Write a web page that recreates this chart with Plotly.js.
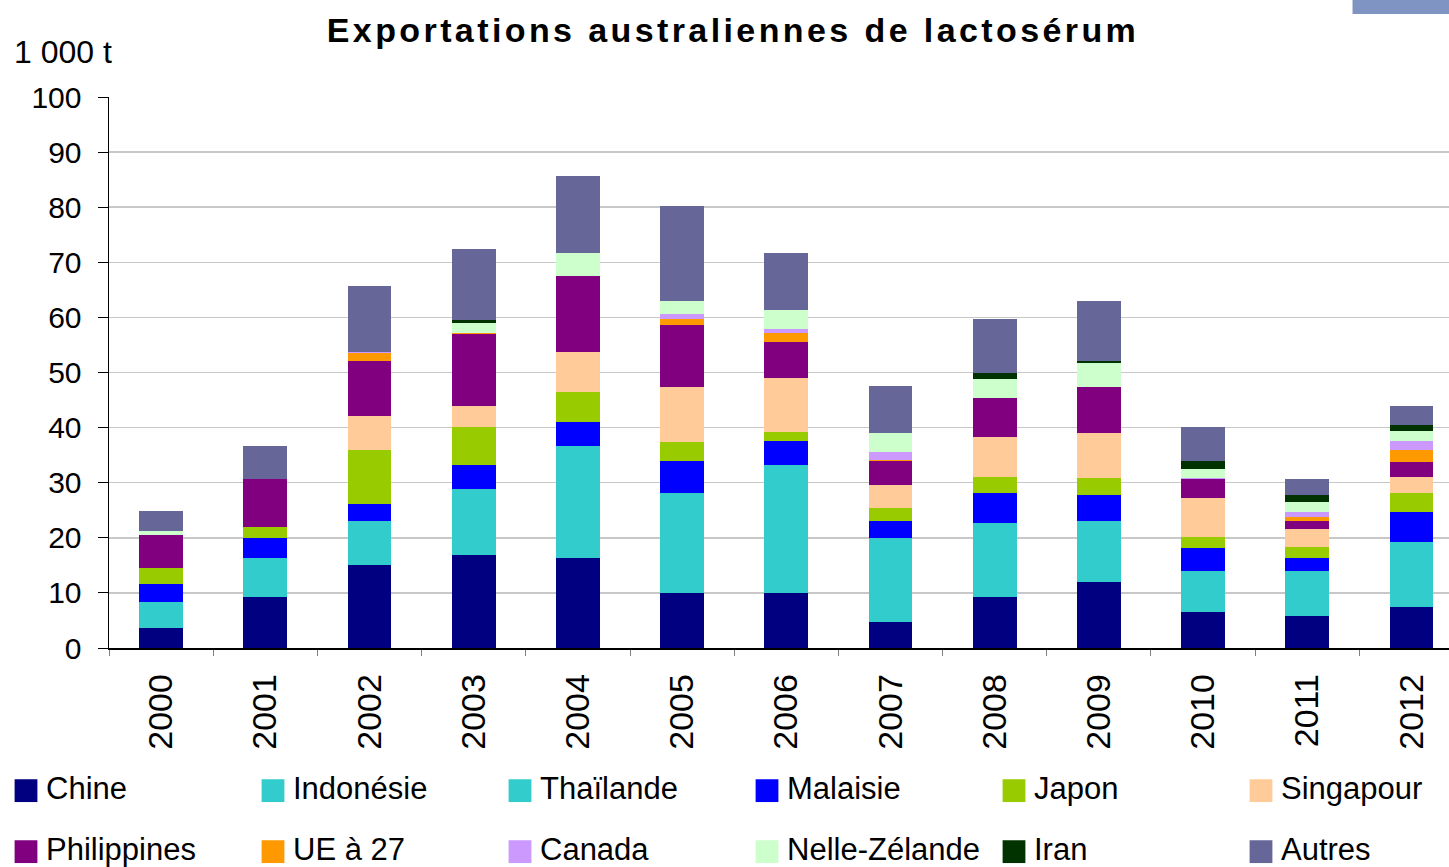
<!DOCTYPE html>
<html>
<head>
<meta charset="utf-8">
<script src="https://cdn.plot.ly/plotly-3.0.1.min.js"></script>
<style>
  html, body { margin: 0; padding: 0; background: #fff; }
  #chart { width: 1449px; height: 867px; }
</style>
</head>
<body>
<div id="chart"></div>
<script>
const years = ["2000", "2001", "2002", "2003", "2004", "2005", "2006", "2007", "2008", "2009", "2010", "2011", "2012"];

// 1 000 t
const chine       = [3.6, 9.2, 15.1, 16.8, 16.4, 10.0, 10.0, 4.8, 9.2, 12.0, 6.55, 5.85, 7.4];
const indonesie   = [4.8, 7.2, 8.0, 12.0, 20.3, 18.1, 23.3, 15.2, 13.5, 11.05, 7.35, 8.05, 11.85];
const thailande   = [0, 0, 0, 0, 0, 0, 0, 0, 0, 0, 0, 0, 0];
const malaisie    = [3.3, 3.6, 3.05, 4.5, 4.3, 5.9, 4.3, 3.05, 5.35, 4.65, 4.2, 2.5, 5.4];
const japon       = [2.85, 2.0, 9.85, 6.8, 5.4, 3.4, 1.55, 2.35, 2.9, 3.1, 2.1, 1.9, 3.4];
const singapour   = [0, 0, 6.15, 3.75, 7.3, 10.0, 9.8, 4.1, 7.35, 8.2, 7.0, 3.35, 2.9];
const philippines = [5.9, 8.6, 9.9, 13.2, 13.9, 11.2, 6.6, 4.5, 7.0, 8.4, 3.4, 1.45, 2.85];
const ue27        = [0, 0, 1.4, 0.2, 0, 1.1, 1.6, 0.2, 0, 0, 0, 0.7, 2.2];
const canada      = [0, 0, 0.3, 0, 0, 0.9, 0.8, 1.4, 0, 0, 0.2, 0.85, 1.55];
const nzelande    = [0.7, 0, 0, 1.75, 4.0, 2.3, 3.4, 3.4, 3.6, 4.25, 1.75, 1.8, 1.8];
const iran        = [0, 0, 0, 0.55, 0, 0, 0, 0, 1.1, 0.35, 1.45, 1.25, 1.1];
const autres      = [3.75, 6.1, 12.0, 12.85, 14.1, 17.4, 10.3, 8.55, 9.7, 11.0, 6.05, 2.9, 3.55];

const seriesNames  = ["Chine", "Indonésie", "Thaïlande", "Malaisie", "Japon", "Singapour",
                      "Philippines", "UE à 27", "Canada", "Nelle-Zélande", "Iran", "Autres"];
const seriesValues = [chine, indonesie, thailande, malaisie, japon, singapour,
                      philippines, ue27, canada, nzelande, iran, autres];
const seriesColors = ["#000080", "#33CCCC", "#33CCCC", "#0000FF", "#99CC00", "#FFCC99",
                      "#800080", "#FF9900", "#CC99FF", "#CCFFCC", "#003300", "#666699"];

const FONT = "Liberation Sans, Arial, sans-serif";

// 2 rows x 6 columns of legend, done as 4 legends of 3 entries
const legendIds = ["legend", "legend3", "legend2", "legend4"];

const traces = seriesValues.map((y, i) => ({
  type: "bar",
  x: years,
  y: y,
  name: seriesNames[i],
  marker: { color: seriesColors[i], line: { width: 0 } },
  legend: legendIds[Math.floor(i / 3)],
  hoverinfo: "x+y+name",
}));

const legendBase = {
  orientation: "h",
  xanchor: "left",
  yanchor: "middle",
  entrywidth: 202,
  entrywidthmode: "pixels",
  font: { family: FONT, size: 31, color: "#000" },
  bgcolor: "rgba(0,0,0,0)",
  borderwidth: 0,
  traceorder: "normal",
};
const colL = (6 - 109) / 1340;
const colR = (747 - 109) / 1340;
const row1 = (648 - 787) / 551;
const row2 = (648 - 848) / 551;

const layout = {
  width: 1449,
  height: 867,
  margin: { l: 109, r: 0, t: 97, b: 219, autoexpand: false },
  paper_bgcolor: "#fff",
  plot_bgcolor: "#fff",
  barmode: "stack",
  bargap: 0.58,
  font: { family: FONT, color: "#000" },
  title: {
    text: "<b>Exportations australiennes de lactosérum</b>",
    x: 733 / 1449,
    xanchor: "center",
    y: 1 - 30 / 867,
    yanchor: "middle",
    font: { family: FONT, size: 34, color: "#000" },
  },
  xaxis: {
    type: "category",
    range: [-0.5, 12.36],
    showline: true,
    linecolor: "#000",
    linewidth: 1.5,
    ticks: "outside",
    tickson: "boundaries",
    ticklen: 6,
    tickcolor: "#808080",
    tickangle: -90,
    ticklabelstandoff: 11,
    tickfont: { family: FONT, size: 34, color: "#000" },
    showgrid: false,
    zeroline: false,
  },
  yaxis: {
    range: [0, 100],
    dtick: 10,
    showline: true,
    linecolor: "#000",
    linewidth: 1.5,
    ticks: "outside",
    ticklen: 10,
    tickcolor: "#000",
    ticklabelstandoff: 10,
    tickfont: { family: FONT, size: 30, color: "#000" },
    showgrid: true,
    gridcolor: "#c8c8c8",
    gridwidth: 1.5,
    zeroline: false,
  },
  legend:  Object.assign({}, legendBase, { x: colL, y: row1 }),
  legend3: Object.assign({}, legendBase, { x: colR, y: row1 }),
  legend2: Object.assign({}, legendBase, { x: colL, y: row2 }),
  legend4: Object.assign({}, legendBase, { x: colR, y: row2 }),
  annotations: [{
    text: "1 000 t",
    xref: "paper",
    yref: "paper",
    x: (12 - 109) / 1340,
    y: (648 - 52) / 551,
    xanchor: "left",
    yanchor: "middle",
    showarrow: false,
    font: { family: FONT, size: 32, color: "#000" },
  }],
  shapes: [{
    type: "rect",
    xref: "paper",
    yref: "paper",
    x0: 0.928,
    x1: 1.01,
    y0: 1.1506,
    y1: 1.2,
    fillcolor: "#7F94C2",
    line: { width: 0 },
    layer: "above",
  }],
};

Plotly.newPlot("chart", traces, layout, { displayModeBar: false, staticPlot: true }).then(() => {
  // bigger legend squares, sitting a bit lower than the text, like the original
  document.querySelectorAll("g.legendpoints path").forEach((p) => {
    const t = p.getAttribute("transform") || "";
    p.setAttribute("transform", t + " translate(0,4) scale(1.9)");
  });
  // the original title is set wide
  document.querySelectorAll(".gtitle").forEach((t) => {
    t.style.letterSpacing = "3.4px";
  });
});
</script>
</body>
</html>
